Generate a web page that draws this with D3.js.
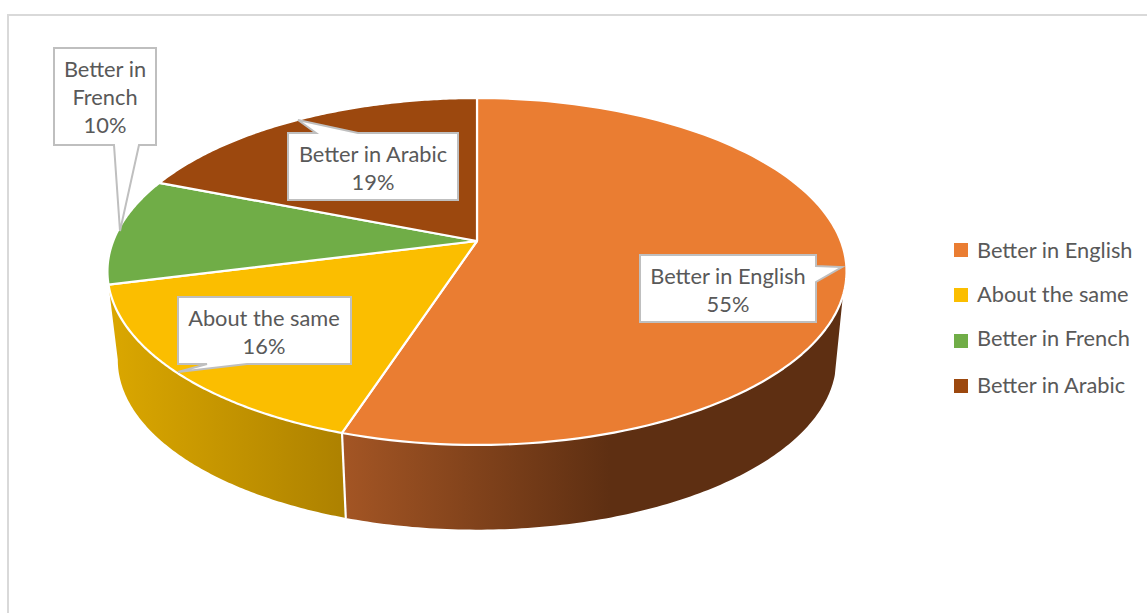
<!DOCTYPE html>
<html>
<head>
<meta charset="utf-8">
<style>
html,body{margin:0;padding:0;background:#fff;overflow:hidden}
svg{display:block}
text{font-family:Lato,"Open Sans",sans-serif;fill:#595959}
</style>
<script src="https://cdn.jsdelivr.net/npm/d3@7"></script>
</head>
<body>
<svg id="c" width="1147" height="613"></svg>
<script>
const categories = ["Better in English","About the same","Better in French","Better in Arabic"];
const values = [55,16,10,19];
const labelLines = [["Better in English","55%"],["About the same","16%"],["Better in","French","10%"],["Better in Arabic","19%"]];
const colors = ["#EA7D32","#FBBE00","#70AD47","#9C480E"];

// layout (callout box + pointer, per category)
const callouts = [
 {box:[640,255,816,322], ptr:[[816,266],[842,267],[816,282]], side:"right", cx:728, base:284},
 {box:[178,297,351,364], ptr:[[247,364],[178,372],[207,364]], side:"bottom", cx:264, base:326},
 {box:[54,48,156,145], ptr:[[139,145],[120,231],[114,145]], side:"bottom", cx:105, base:77},
 {box:[288,133,458,200], ptr:[[316,133],[298,120],[358,133]], side:"top", cx:373, base:162}
];
const lineH = 28;
const legendY = [250,295,341,386];
const legendBase = [258,302,346,393];
const fontPx = 21.8;

const svg = d3.select("#c");

// frame
svg.append("path").attr("d","M8,613V15H1147").attr("fill","none").attr("stroke","#d9d9d9").attr("stroke-width",2);

// perspective projection of the unit disc
const ax=477, ay=241, k=0.1758, bx=363.8, by=168.1;
const vanishY=4295, depthScaleY=0.978, depthScaleX=0.972;
function upperPt(t){const X=Math.sin(t),Y=-Math.cos(t),d=1-k*Y;return [ax+bx*X/d, ay+by*Y/d];}
function lowerPt(t){const p=upperPt(t);return [ax+(p[0]-ax)*depthScaleX, vanishY+(p[1]-vanishY)*depthScaleY];}
const arcPts=(f,a,b)=>d3.range(0,121).map(i=>f(a+(b-a)*i/120));
const lineGen=d3.line();

const arcs=d3.pie().sort(null).value(d=>d)(values);
const rad=d=>d*Math.PI/180;

// gradients for the rim
const defs=svg.append("defs");
function grad(id,x1,x2,stops){
  const g=defs.append("linearGradient").attr("id",id).attr("gradientUnits","userSpaceOnUse")
    .attr("x1",x1).attr("x2",x2).attr("y1",0).attr("y2",0);
  stops.forEach(s=>g.append("stop").attr("offset",s[0]).attr("stop-color",s[1]));
}
grad("gOrange",345,610,[[0,"#A35524"],[1,"#5E2F12"]]);
grad("gYellow",117,345,[[0,"#D9A600"],[1,"#AD8100"]]);

// rim walls
const orangeWall=[...arcPts(upperPt,rad(108),arcs[0].endAngle),...arcPts(lowerPt,arcs[0].endAngle,rad(105))];
svg.append("path").attr("d",lineGen(orangeWall)+"Z").attr("fill","url(#gOrange)");
const yellowWall=[...arcPts(upperPt,arcs[1].startAngle,arcs[1].endAngle),...arcPts(lowerPt,rad(260),arcs[1].startAngle)];
svg.append("path").attr("d",lineGen(yellowWall)+"Z").attr("fill","url(#gYellow)");
svg.append("path").attr("d",lineGen([upperPt(arcs[0].endAngle),lowerPt(arcs[0].endAngle)])).attr("stroke","#fff").attr("stroke-width",2.2).attr("fill","none");

// top faces
svg.selectAll("path.slice").data(arcs).join("path").attr("class","slice")
  .attr("d",d=>lineGen([[ax,ay],...arcPts(upperPt,d.startAngle,d.endAngle)])+"Z")
  .attr("fill",(d,i)=>colors[i]).attr("stroke","#fff").attr("stroke-width",2.2).attr("stroke-linejoin","round");

// callouts
callouts.forEach((c,i)=>{
  const [x0,y0,x1,y1]=c.box;
  let pts;
  if(c.side==="right") pts=[[x0,y0],[x1,y0],...c.ptr,[x1,y1],[x0,y1]];
  if(c.side==="bottom") pts=[[x0,y0],[x1,y0],[x1,y1],...c.ptr,[x0,y1]];
  if(c.side==="top") pts=[[x0,y0],...c.ptr,[x1,y0],[x1,y1],[x0,y1]];
  svg.append("path").attr("d",lineGen(pts)+"Z").attr("fill","#fff").attr("stroke","#bfbfbf").attr("stroke-width",2).attr("stroke-linejoin","miter");
  labelLines[i].forEach((t,j)=>{
    svg.append("text").attr("x",c.cx).attr("y",c.base+j*lineH).attr("text-anchor","middle")
      .attr("font-size",fontPx).text(t);
  });
});

// legend
categories.forEach((t,i)=>{
  svg.append("rect").attr("x",954).attr("y",legendY[i]-7).attr("width",14).attr("height",14).attr("fill",colors[i]);
  svg.append("text").attr("x",977).attr("y",legendBase[i]).attr("font-size",fontPx).text(t);
});
</script>
</body>
</html>
